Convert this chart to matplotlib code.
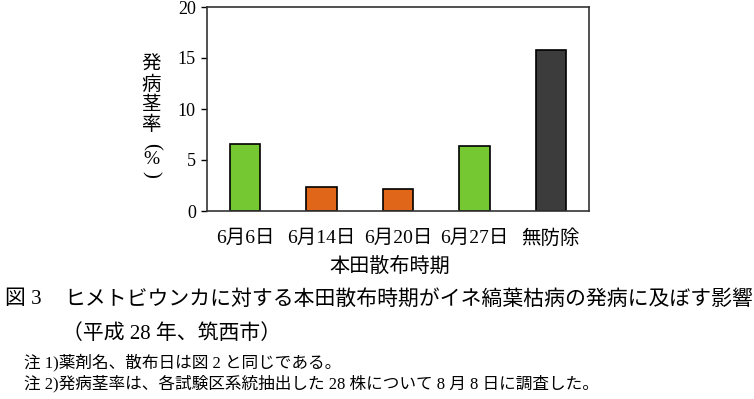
import matplotlib
matplotlib.use("Agg")
import matplotlib.pyplot as plt

categories = ["6月6日", "6月14日", "6月20日", "6月27日", "無防除"]
values = [6.6, 2.4, 2.2, 6.4, 15.8]
colors = ["#76C832", "#E0661A", "#E0661A", "#76C832", "#3C3C3C"]
yticks = [0, 5, 10, 15, 20]

JP = ["Liberation Serif", "Noto Sans CJK JP"]

fig = plt.figure(figsize=(7.54, 3.99), dpi=100)
ax = fig.add_axes([207/754, 1-211/399, 382/754, 204/399])

x = list(range(len(categories)))
ax.bar(x, values, width=0.4, color=colors, edgecolor="black", linewidth=1.2, zorder=2)
ax.set_xlim(-0.5, len(categories)-0.5)
ax.set_ylim(0, 20)
ax.set_yticks(yticks)
ax.set_yticklabels([str(v) for v in yticks], family="Liberation Serif", fontsize=13)
ax.set_xticks(x)
ax.set_xticklabels(categories, family=JP, fontsize=14)
ax.tick_params(axis="x", length=0, pad=13)
ax.tick_params(axis="y", length=4, width=1, direction="out", pad=4)
for s in ax.spines.values():
    s.set_linewidth(1.2)
    s.set_color("#333333")

fig.text(390/754, 1-267/399, "本田散布時期", family=JP, fontsize=14.5, ha="center", va="center")

# vertical y-axis label: 発病茎率（%）
ychars = ["発", "病", "茎", "率"]
ypos = [65, 85, 105, 125]
for ch, yp in zip(ychars, ypos):
    fig.text(151/754, 1-yp/399, ch, family=JP, fontsize=14, ha="center", va="center")
fig.text(151/754, 1-146/399, "(", family="Liberation Serif", fontsize=15, rotation=-90,
         ha="center", va="center")
fig.text(151/754, 1-160/399, "%", family="Liberation Serif", fontsize=14, ha="center", va="center")
fig.text(151/754, 1-174/399, ")", family="Liberation Serif", fontsize=15, rotation=-90,
         ha="center", va="center")

fig.text(5/754, 1-300/399, "図 3", family=JP, fontsize=15, ha="left", va="center")
fig.text(64/754, 1-300/399, "ヒメトビウンカに対する本田散布時期がイネ縞葉枯病の発病に及ぼす影響",
         family=JP, fontsize=15, ha="left", va="center")
fig.text(62/754, 1-334/399, "（平成 28 年、筑西市）", family=JP, fontsize=15, ha="left", va="center")
fig.text(24/754, 1-362/399, "注 1)薬剤名、散布日は図 2 と同じである。", family=JP, fontsize=12, ha="left", va="center")
fig.text(24/754, 1-384/399, "注 2)発病茎率は、各試験区系統抽出した 28 株について 8 月 8 日に調査した。",
         family=JP, fontsize=12, ha="left", va="center")

fig.savefig("out.png", dpi=100)
